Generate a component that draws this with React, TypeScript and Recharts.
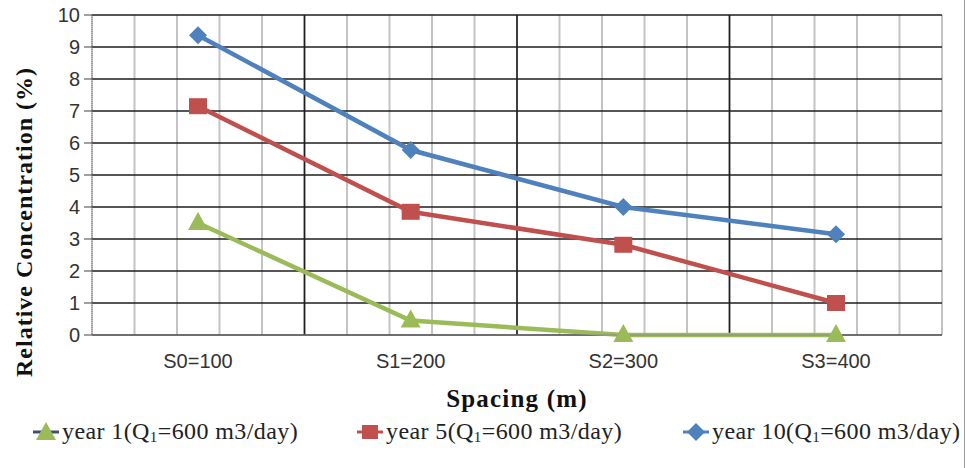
import React from "react";
import { CartesianGrid, Label, Legend, Line, LineChart, XAxis, YAxis } from "recharts";

const categories = ["S0=100", "S1=200", "S2=300", "S3=400"];
const year1 = [3.5, 0.45, 0, 0];
const year5 = [7.15, 3.85, 2.82, 1.0];
const year10 = [9.37, 5.78, 4.0, 3.15];
const yTicks = [0, 1, 2, 3, 4, 5, 6, 7, 8, 9, 10];

const data = categories.map((name, i) => ({
  name,
  year1: year1[i],
  year5: year5[i],
  year10: year10[i],
}));

const GREEN = "#9bbb59";
const RED = "#c0504d";
const BLUE = "#4f81bd";

const Triangle = ({ cx, cy, fill }: any) => (
  <polygon points={`${cx},${cy - 11} ${cx + 10},${cy + 7} ${cx - 10},${cy + 7}`} fill={fill} />
);
const Square = ({ cx, cy, fill }: any) => <rect x={cx - 9} y={cy - 8} width={18} height={16} fill={fill} />;
const Diamond = ({ cx, cy, fill }: any) => (
  <polygon points={`${cx},${cy - 9} ${cx + 9},${cy} ${cx},${cy + 9} ${cx - 9},${cy}`} fill={fill} />
);

const legendItems = [
  { label: "year 1", line: "#41506e", color: GREEN, shape: "tri", left: 33 },
  { label: "year 5", line: RED, color: RED, shape: "sq", left: 357 },
  { label: "year 10", line: BLUE, color: BLUE, shape: "dia", left: 683 },
];

const LegendIcon = ({ item }: any) => (
  <svg width={26} height={20} style={{ marginRight: 3 }}>
    <line x1={0} y1={10} x2={26} y2={10} stroke={item.line} strokeWidth={3} />
    {item.shape === "tri" && <Triangle cx={13} cy={11} fill={item.color} />}
    {item.shape === "sq" && <rect x={5} y={3} width={16} height={14} fill={item.color} />}
    {item.shape === "dia" && <Diamond cx={13} cy={10} fill={item.color} />}
  </svg>
);

const renderLegend = () => (
  <div style={{ position: "relative", width: 967, height: 40 }}>
    {legendItems.map((item) => (
      <div
        key={item.label}
        style={{
          position: "absolute",
          left: item.left,
          top: 0,
          display: "flex",
          alignItems: "center",
          fontFamily: "'Liberation Serif', serif",
          fontSize: 24,
          letterSpacing: 0.4,
          color: "#222",
          whiteSpace: "nowrap",
        }}
      >
        <LegendIcon item={item} />
        <span>
          {item.label}(Q<span style={{ fontSize: 15, verticalAlign: -3 }}>1</span>=600 m3/day)
        </span>
      </div>
    ))}
  </div>
);

const minorLines = ({ offset }: any) =>
  Array.from({ length: 21 }, (_, k) => offset.left + (offset.width * k) / 20);
const majorLines = ({ offset }: any) => [1, 2, 3].map((k) => offset.left + (offset.width * k) / 4);

const tickFont = { fontFamily: "'Liberation Sans', sans-serif", fontSize: 20, fill: "#333" };

export default function App() {
  return (
    <div style={{ position: "absolute", left: 0, top: 0, width: 967, height: 468, background: "#fff" }}>
      <LineChart width={967} height={468} data={data} margin={{ top: 15, right: 25, left: 0, bottom: 0 }}>
        <CartesianGrid horizontal={false} stroke="#c4c4c4" strokeWidth={2} verticalCoordinatesGenerator={minorLines} />
        <CartesianGrid stroke="#1e1e1e" strokeWidth={1.6} verticalCoordinatesGenerator={majorLines} />
        <XAxis
          dataKey="name"
          height={133}
          padding={{ left: 106, right: 106 }}
          axisLine={{ stroke: "#888" }}
          tickLine={false}
          tickSize={0}
          tickMargin={19}
          tick={tickFont}
        >
          <Label
            value="Spacing (m)"
            position="insideBottom"
            offset={61}
            fontFamily="'Liberation Serif', serif"
            fontWeight="bold"
            fontSize={25}
            letterSpacing={1.2}
            fill="#111"
          />
        </XAxis>
        <YAxis
          width={92}
          domain={[0, 10]}
          ticks={yTicks}
          interval={0}
          axisLine={{ stroke: "#777", strokeDasharray: "1 1" }}
          tickLine={{ stroke: "#444" }}
          tickSize={8}
          tickMargin={4}
          tick={tickFont}
        >
          <Label
            content={() => (
              <text
                x={24}
                y={222}
                transform="rotate(-90 24 222)"
                textAnchor="middle"
                dominantBaseline="central"
                fontFamily="'Liberation Serif', serif"
                fontWeight="bold"
                fontSize={24}
                letterSpacing={1}
                fill="#111"
              >
                Relative Concentration (%)
              </text>
            )}
          />
        </YAxis>
        <Legend
          verticalAlign="middle"
          layout="horizontal"
          content={renderLegend}
          wrapperStyle={{ top: 418, left: 0, width: 967 }}
        />
        <Line dataKey="year1" stroke={GREEN} strokeWidth={4.5} dot={<Triangle fill={GREEN} />} isAnimationActive={false} />
        <Line dataKey="year5" stroke={RED} strokeWidth={4.5} dot={<Square fill={RED} />} isAnimationActive={false} />
        <Line dataKey="year10" stroke={BLUE} strokeWidth={4.5} dot={<Diamond fill={BLUE} />} isAnimationActive={false} />
      </LineChart>
      <div style={{ position: "absolute", left: 964, top: 0, width: 1, height: 468, background: "#999" }} />
    </div>
  );
}
